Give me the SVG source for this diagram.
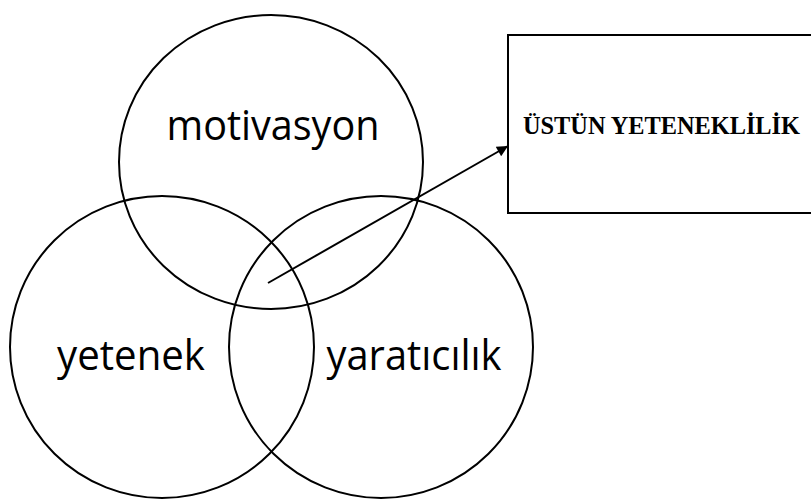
<svg xmlns="http://www.w3.org/2000/svg" width="811" height="504" viewBox="0 0 811 504">
<defs>
<style>
.c{fill:none;stroke:#000;stroke-width:2}
.lbl{font-family:"Open Sans","Noto Sans",sans-serif;font-size:42px;fill:#000}
.box{fill:#fff;stroke:#000;stroke-width:2}
.bt{font-family:"Liberation Serif","Times New Roman",serif;font-weight:bold;font-size:25px;fill:#000}
.conn{stroke:#000;stroke-width:2;fill:none}
</style>
<marker id="ah" viewBox="0 0 10 10" refX="10" refY="5" markerWidth="13" markerHeight="11" markerUnits="userSpaceOnUse" orient="auto">
<path d="M0,0 L10,5 L0,10 z" fill="#000"/>
</marker>
</defs>
<rect width="811" height="504" fill="#fff"/>
<g id="motivasyon">
<ellipse class="c" cx="271" cy="162" rx="152" ry="147"/>
<text class="lbl" x="273" y="140" text-anchor="middle" textLength="213" lengthAdjust="spacingAndGlyphs">motivasyon</text>
</g>
<g id="yetenek">
<ellipse class="c" cx="162" cy="347" rx="152" ry="151"/>
<text class="lbl" x="131" y="370" text-anchor="middle" textLength="148" lengthAdjust="spacingAndGlyphs">yetenek</text>
</g>
<g id="yaraticilik">
<ellipse class="c" cx="381" cy="347" rx="152" ry="151"/>
<text class="lbl" x="414" y="370" text-anchor="middle" textLength="175" lengthAdjust="spacingAndGlyphs">yaratıcılık</text>
</g>
<g id="ustun">
<rect class="box" x="508" y="35" width="310" height="178"/>
<text class="bt" x="523" y="134" textLength="277" lengthAdjust="spacingAndGlyphs">ÜSTÜN YETENEKLİLİK</text>
</g>
<g id="connectors">
<line class="conn" x1="268" y1="283" x2="508" y2="146" marker-end="url(#ah)"/>
</g>
</svg>
